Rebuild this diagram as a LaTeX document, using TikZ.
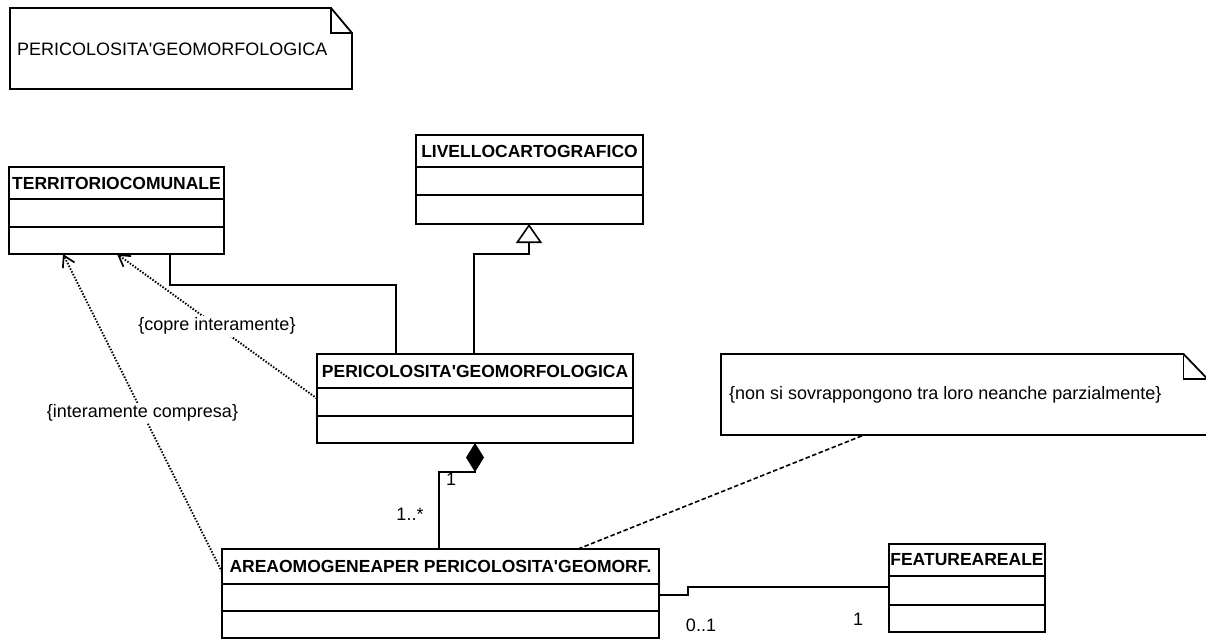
\documentclass[tikz,border=0pt]{standalone}
\usepackage{fontspec}
\setmainfont{Liberation Sans}
\usetikzlibrary{arrows.meta}

\tikzset{
  boxline/.style={line width=1.8pt},
  classbox/.style={draw, line width=1.8pt, inner sep=0pt, outer sep=0pt},
  hdr/.style={inner sep=0pt, font=\fontsize{17.5}{21}\selectfont\bfseries},
  lbl/.style={inner sep=0pt, font=\fontsize{18}{21.6}\selectfont},
  notearea/.style={inner sep=0pt, outer sep=0pt},
  noteline/.style={line width=1.8pt, line join=miter},
  assoc/.style={line width=1.6pt},
  depend/.style={line width=1.9pt, dash pattern=on 1.5pt off 1.6pt,
                 -{Straight Barb[length=11pt,width=13pt,line width=1.7pt]}},
  notelink/.style={line width=1.6pt, dash pattern=on 4.5pt off 2.5pt},
}

% straight apostrophe, as in the class names
\newcommand{\apo}{\textquotesingle}

% class box: name, left, top, right, header line, divider, bottom, title
\newcommand{\umlclass}[8]{%
  \node[classbox, minimum width={#4-#2}, minimum height={#7-#3}] (#1)
       at ({(#2+#4)/2},{(#3+#7)/2}) {};
  \draw[boxline] (#2,#5) -- (#4,#5);
  \draw[boxline] (#2,#6) -- (#4,#6);
  \node[hdr] (#1-title) at ({(#2+#4)/2},{(#3+#5)/2}) {#8};
}

% note with folded corner: name, left, top, right, bottom, fold width
\newcommand{\umlnote}[6]{%
  \node[notearea, minimum width={#4-#2}, minimum height={#5-#3}] (#1)
       at ({(#2+#4)/2},{(#3+#5)/2}) {};
  \draw[noteline] (#1.south west) -- (#1.north west) -- ([xshift=-#6pt]#1.north east)
        -- ([yshift=-25pt]#1.north east) -- (#1.south east) -- cycle;
  \draw[noteline] ([xshift=-#6pt]#1.north east) -- ([xshift=-#6pt,yshift=-25pt]#1.north east)
        -- ([yshift=-25pt]#1.north east);
}

\begin{document}
\begin{tikzpicture}[x=1pt, y=-1pt]
  \useasboundingbox (0,0) rectangle (1206,639);

  % notes
  \umlnote{notetop}{10}{8}{352}{89}{21}
  \node[lbl, anchor=west] (notetop-text) at (17,49.5) {PERICOLOSITA\apo GEOMORFOLOGICA};
  \umlnote{noteover}{721}{354}{1207.5}{435}{24}
  \node[lbl, anchor=west] (noteover-text) at (729,395)
       {\{non si sovrappongono tra loro neanche parzialmente\}};

  % classes
  \umlclass{terr}{9}{167}{224}{199}{227}{254}{TERRITORIOCOMUNALE}
  \umlclass{liv}{416}{135}{643}{167}{195}{224}{LIVELLOCARTOGRAFICO}
  \umlclass{peri}{317}{354}{633}{388}{416}{443}{PERICOLOSITA\apo GEOMORFOLOGICA}
  \umlclass{area}{222}{549}{659}{584}{611}{638}{AREAOMOGENEAPER PERICOLOSITA\apo GEOMORF.}
  \umlclass{feat}{889}{544}{1045}{576}{605}{632}{FEATUREAREALE}

  % association territorio -- pericolosita
  \draw[assoc] (170,0 |- terr.south) -- (170,285) -- (396,285) -- (396,0 |- peri.north);

  % generalization pericolosita -> livello cartografico
  \draw[assoc, -{Triangle[open, length=19pt, width=26pt, line width=1.6pt]}]
       (474,0 |- peri.north) -- (474,254) -- (529,254) -- (529,0 |- liv.south);

  % composition area -> pericolosita
  \draw[assoc, -{Diamond[length=29pt, width=18pt]}]
       (439,0 |- area.north) -- (439,472) -- (475,472) -- (475,0 |- peri.south);
  \node[lbl] (m-one) at (451,479) {1};
  \node[lbl] (m-many) at (410,514) {1..*};

  % association area -- feature areale
  \draw[assoc] (area.east |- 0,595) -- (688,595) -- (688,587) -- (feat.west |- 0,587);
  \node[lbl] (m-opt) at (701,625) {0..1};
  \node[lbl] (m-feat) at (858,619) {1};

  % constraints
  \draw[depend] (peri.west) -- node[lbl, fill=white, inner sep=2pt] (c-copre) {\{copre interamente\}}
       (117,0 |- terr.south);
  \draw[depend] (area.west |- 0,572) -- node[lbl, fill=white, inner sep=2pt] (c-compresa) {\{interamente compresa\}}
       (63,0 |- terr.south);

  % note attachment
  \draw[notelink] (578,0 |- area.north) -- (864,0 |- noteover.south);
\end{tikzpicture}
\end{document}
